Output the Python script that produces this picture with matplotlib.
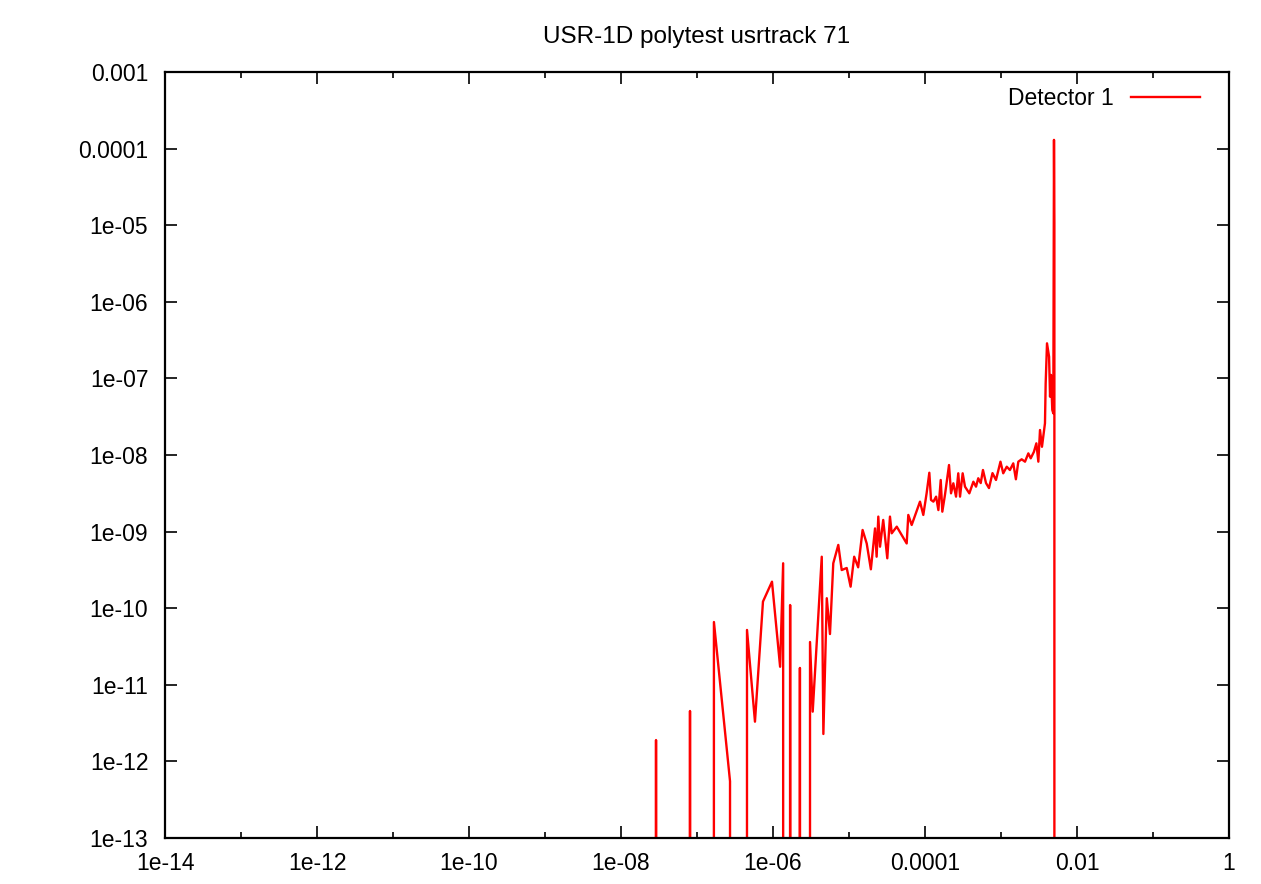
import matplotlib
matplotlib.use("Agg")
import matplotlib.pyplot as plt
from matplotlib.ticker import FixedLocator, FixedFormatter, NullFormatter

plt.rcParams['font.family'] = ['Liberation Sans', 'DejaVu Sans']

# USR-1D polytest usrtrack 71, detector 1 (zeros fall below the log axis)
energy = [1e-14, 2.0e-8, 2.89e-8, 4.0e-8, 6.0e-8, 8.09e-8, 1.2e-7, 1.67e-7, 2.72e-7, 3.5e-7,
          4.55e-7, 5.79e-7, 7.38e-7, 9.7e-7, 1.24e-6, 1.36e-6, 1.5e-6, 1.68e-6, 1.95e-6, 2.26e-6,
          2.65e-6, 3.07e-6, 3.33e-6, 4.38e-6, 4.6e-6, 5.1e-6, 5.62e-6, 6.21e-6, 7.23e-6, 8.02e-6,
          9.33e-6, 1.05e-5, 1.17e-5, 1.32e-5, 1.51e-5, 1.71e-5, 1.94e-5, 2.2e-5, 2.31e-5, 2.43e-5,
          2.56e-5, 2.82e-5, 3.19e-5, 3.46e-5, 3.65e-5, 4.25e-5, 5.74e-5, 6.03e-5, 6.68e-5, 8.59e-5,
          9.5e-5, 1.05e-4, 1.14e-4, 1.2e-4, 1.29e-4, 1.40e-4, 1.50e-4, 1.61e-4, 1.69e-4, 1.83e-4,
          2.07e-4, 2.2e-4, 2.36e-4, 2.56e-4, 2.74e-4, 2.89e-4, 3.13e-4, 3.36e-4, 3.83e-4, 4.33e-4,
          4.69e-4, 5.02e-4, 5.41e-4, 5.79e-4, 6.35e-4, 6.95e-4, 7.73e-4, 8.59e-4, 9.84e-4, 1.07e-3,
          1.19e-3, 1.31e-3, 1.45e-3, 1.57e-3, 1.69e-3, 1.87e-3, 2.07e-3, 2.29e-3, 2.46e-3, 2.71e-3,
          2.92e-3, 3.1e-3, 3.26e-3, 3.46e-3, 3.79e-3, 3.87e-3, 4.03e-3, 4.29e-3, 4.42e-3, 4.55e-3,
          4.73e-3, 4.88e-3, 4.98e-3, 5.04e-3, 5.1e-3, 1.0]
fluence = [0, 0, 1.9e-12, 0, 0, 4.55e-12, 0, 6.6e-11, 5.5e-13, 0,
           5.2e-11, 3.3e-12, 1.22e-10, 2.22e-10, 1.72e-11, 3.86e-10, 0, 1.1e-10, 0, 1.66e-11,
           0, 3.62e-11, 4.46e-12, 4.7e-10, 2.28e-12, 1.35e-10, 4.6e-11, 3.86e-10, 6.7e-10, 3.15e-10,
           3.35e-10, 1.91e-10, 4.7e-10, 3.42e-10, 1.05e-9, 7.0e-10, 3.22e-10, 1.1e-9, 4.7e-10, 1.57e-9,
           6.35e-10, 1.42e-9, 4.48e-10, 1.57e-9, 9.5e-10, 1.16e-9, 7.0e-10, 1.65e-9, 1.22e-9, 2.46e-9,
           1.65e-9, 3.16e-9, 5.87e-9, 2.59e-9, 2.46e-9, 2.86e-9, 1.91e-9, 4.72e-9, 1.82e-9, 3.0e-9,
           7.4e-9, 3.16e-9, 4.27e-9, 2.86e-9, 5.77e-9, 2.86e-9, 5.77e-9, 3.86e-9, 3.16e-9, 4.48e-9,
           3.86e-9, 4.97e-9, 4.3e-9, 6.37e-9, 4.3e-9, 3.7e-9, 5.8e-9, 4.72e-9, 8.18e-9, 5.77e-9,
           7.03e-9, 6.37e-9, 7.78e-9, 4.82e-9, 8.18e-9, 8.79e-9, 8.18e-9, 1.05e-8, 9.05e-9, 1.10e-8,
           1.42e-8, 8.18e-9, 2.12e-8, 1.28e-8, 2.6e-8, 8.6e-8, 2.87e-7, 1.92e-7, 5.77e-8, 1.11e-7,
           3.87e-8, 3.5e-8, 1.3e-4, 1.07e-5, 0, 0]

x_ticks = [1e-14, 1e-12, 1e-10, 1e-8, 1e-6, 1e-4, 1e-2, 1]
x_labels = ["1e-14", "1e-12", "1e-10", "1e-08", "1e-06", "0.0001", "0.01", "1"]
x_minor = [1e-13, 1e-11, 1e-9, 1e-7, 1e-5, 1e-3, 1e-1]
y_ticks = [1e-3, 1e-4, 1e-5, 1e-6, 1e-7, 1e-8, 1e-9, 1e-10, 1e-11, 1e-12, 1e-13]
y_labels = ["0.001", "0.0001", "1e-05", "1e-06", "1e-07", "1e-08", "1e-09",
            "1e-10", "1e-11", "1e-12", "1e-13"]

fs = 16.5

fig = plt.figure(figsize=(12.61, 8.84), dpi=100)
ax = fig.add_axes([165 / 1261, 1 - 838 / 884, 1064 / 1261, 766 / 884])
ax.set_xscale('log')
ax.set_yscale('log', nonpositive='clip')
ax.plot(energy, fluence, color='#ff0000', lw=1.7, label="Detector 1")
ax.set_xlim(1e-14, 1)
ax.set_ylim(1e-13, 1e-3)

ax.xaxis.set_major_locator(FixedLocator(x_ticks))
ax.xaxis.set_major_formatter(FixedFormatter(x_labels))
ax.xaxis.set_minor_locator(FixedLocator(x_minor))
ax.xaxis.set_minor_formatter(NullFormatter())
ax.yaxis.set_major_locator(FixedLocator(y_ticks))
ax.yaxis.set_major_formatter(FixedFormatter(y_labels))
ax.yaxis.set_minor_locator(FixedLocator([]))
ax.yaxis.set_minor_formatter(NullFormatter())
ax.tick_params(which='both', direction='in', top=True, right=True, labelsize=fs, color='black')
ax.tick_params(which='major', length=8.5, width=1.2)
ax.tick_params(which='minor', length=4.3, width=1.2)
ax.tick_params(axis='x', which='major', pad=10)
ax.tick_params(axis='y', which='major', pad=12)
for s in ax.spines.values():
    s.set_linewidth(1.6)

ax.set_title("USR-1D polytest usrtrack 71", fontsize=17.5, pad=21)
ax.legend(loc='upper right', bbox_to_anchor=(0.981, 0.992), borderaxespad=0, frameon=False,
          markerfirst=False, fontsize=fs, handlelength=3.0, handletextpad=0.75)

fig.savefig("out.png", dpi=100)
